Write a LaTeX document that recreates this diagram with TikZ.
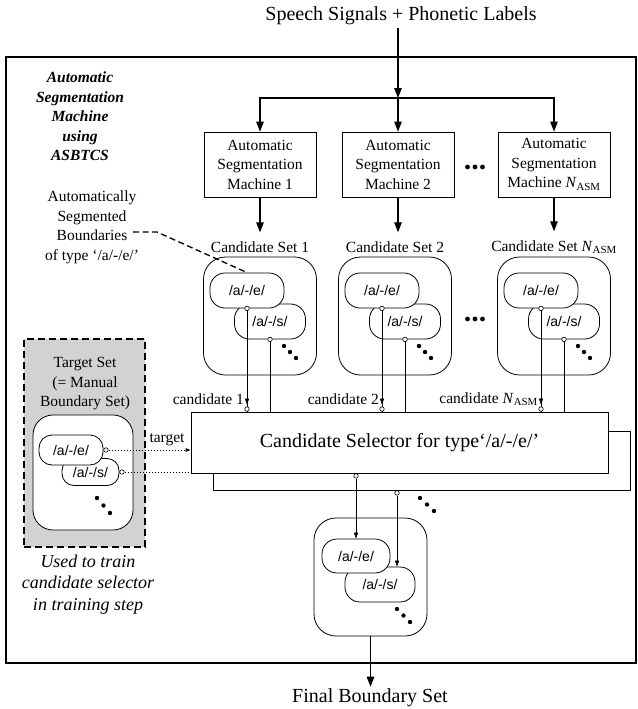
\documentclass[tikz,border=0pt]{standalone}
\usepackage{fontspec}
\setmainfont{Liberation Serif}
\newfontfamily\phonefont{Liberation Sans}
\usetikzlibrary{arrows.meta}

\newcommand\fbig{\fontsize{20}{24}\selectfont}
\newcommand\fmid{\fontsize{15.5}{19.5}\selectfont}
\newcommand\fnote{\fontsize{18}{21.5}\selectfont\itshape}
\newcommand\fphone{\phonefont\fontsize{14}{16}\selectfont}
\newcommand\Nasm{\textit{N}\textsubscript{ASM}}

\tikzset{
  machbox/.style={draw, line width=0.8pt, align=center, font=\fmid, minimum width=112pt, minimum height=65pt, inner sep=0pt},
  setbox/.style={draw, line width=0.8pt, rounded corners=22pt, minimum width=113pt, minimum height=118pt, inner sep=0pt},
  phone/.style={draw, fill=white, line width=0.8pt, rounded corners=15pt, minimum width=72pt, minimum height=35pt, inner sep=0pt, font=\fphone},
  selbox/.style={draw, fill=white, line width=0.8pt, minimum width=417pt, minimum height=61pt, inner sep=0pt, font=\fbig},
  port/.style={circle, draw, fill=white, line width=0.6pt, inner sep=0pt, minimum size=4.5pt},
  lbl/.style={inner sep=0pt, font=\fmid, align=center},
  arr/.style={line width=1.1pt, -{Triangle[length=10pt,width=7.5pt]}},
  thinarr/.style={line width=0.6pt, -{Triangle[length=6pt,width=4pt]}},
  dotarr/.style={line width=1pt, dotted, -{Triangle[length=5pt,width=3.5pt]}},
}

\begin{document}
\begin{tikzpicture}[x=1pt, y=-1pt]
\useasboundingbox (0,0) rectangle (637,709);

% Outer frame
\draw[line width=1.2pt] (6,57) rectangle (636,663);

% Input and split to the machines
\node[font=\fbig, inner sep=3pt] (speech) at (401,16) {Speech Signals + Phonetic Labels};
\coordinate (split) at (398,98);
\draw[arr] (speech.south -| split) -- (split);

% Candidate selector (back copy first)
\node[selbox, minimum height=59pt] (sel2) at (422,460.5) {};
\node[selbox] (sel) at (399.5,442.5) {Candidate Selector for type‘/a/-/e/’};

% Machines, candidate sets and their outputs
\foreach \i/\cx/\mx/\nm in {1/260/260/1, 2/395/398/2, 3/554/554/\Nasm} {
  \node[machbox] (m\i) at (\mx,164.5) {Automatic\\Segmentation\\Machine \nm};
  \draw[arr] (split) -| (m\i.north);
  \node[lbl] (cl\i) at (\cx,247) {Candidate Set \nm};
  \draw[arr, shorten >=9pt] (m\i.south) -- (m\i.south |- cl\i.north);
  \node[setbox] (cs\i) at (\cx,316) {};
  \node[phone, minimum width=71pt] (s\i) at (\cx+10,321.5) {/a/-/s/};
  \node[phone, minimum width=74pt] (e\i) at (\cx-13,290.5) {/a/-/e/};
  \foreach \d in {0,1,2}
    \fill (\cx+24+6*\d,346+6*\d) circle (2.2);
  % lines into the selector
  \coordinate (ce\i) at (e\i.south |- sel.north);
  \draw[line width=0.6pt] (e\i.south) -- (ce\i);
  \draw[thinarr, shorten >=7pt] (e\i.south) -- (ce\i);
  \node[port] (pe\i) at (e\i.south) {};
  \node[port, anchor=south] (pc\i) at (ce\i) {};
  \draw[line width=0.6pt] (s\i.south) -- (s\i.south |- sel.north);
  \node[port] (ps\i) at (s\i.south) {};
}
\node[lbl, anchor=east] (cand1) at (244,399) {candidate 1};
\node[lbl, anchor=east] (cand2) at (379,399) {candidate 2};
\node[lbl, anchor=east] (cand3) at (538,399) {candidate \Nasm};

% Ellipses between the columns
\foreach \y in {167,319}
  \foreach \d in {-7.5,0,7.5}
    \fill (475+\d,\y) circle (2.4);

% Title and annotation
\node[lbl, font=\fmid\bfseries\itshape] (title) at (80,116.5) {Automatic\\Segmentation\\Machine\\using\\ASBTCS};
\node[lbl] (asbnote) at (92,227.5) {Automatically\\Segmented\\Boundaries\\of type ‘/a/-/e/’};
\coordinate (asbend) at (133,232);
\draw[line width=1.3pt, dash pattern=on 6pt off 3.5pt] (asbend) -- ++(24,0) -- (e1.north);

% Target set
\node[draw, line width=2pt, dash pattern=on 7pt off 4pt, fill=gray!35, minimum width=121pt, minimum height=208pt] (tgt) at (84.5,443) {};
\node[lbl] (tgtlbl) at (85,384) {Target Set\\(= Manual\\Boundary Set)};
\node[setbox, fill=white, minimum width=100pt, minimum height=115pt, rounded corners=20pt] (tset) at (83,472.5) {};
\node[phone, minimum width=57pt, minimum height=27pt, rounded corners=12pt] (ts) at (90.5,472) {/a/-/s/};
\node[phone, minimum width=64pt, minimum height=30pt, rounded corners=13pt] (te) at (71,450) {/a/-/e/};
\foreach \d in {0,1,2}
  \fill (97+6.5*\d,498+7.5*\d) circle (2.2);
\node[port, anchor=west] (pte) at (te.east) {};
\node[port, anchor=west] (pts) at (ts.east) {};
\draw[dotarr] (pte.east) -- (pte.east -| sel.west);
\draw[line width=1pt, dotted] (pts.east) -- (pts.east -| sel.west);
\node[lbl] (tgtword) at (167,440) {target};
\node[lbl, font=\fnote] (trainnote) at (88,584.5) {Used to train\\candidate selector\\in training step};

% Selector output
\foreach \d in {0,1,2}
  \fill (420+7*\d,498+6.5*\d) circle (2.2);
\node[setbox] (fset) at (370.5,577) {};
\node[phone, minimum width=70pt] (fs) at (380,584.5) {/a/-/s/};
\node[phone, minimum width=68pt, minimum height=34pt] (fe) at (356,556) {/a/-/e/};
\foreach \d in {0,1,2}
  \fill (397+6.5*\d,609+6.5*\d) circle (2.2);
\node[port, anchor=north] (pf1) at (fe.north |- sel.south) {};
\draw[thinarr] (pf1.south) -- (fe.north);
\path (sel2.south) ++(-25,0) coordinate (fsout);
\node[port, anchor=north] (pf2) at (fsout) {};
\draw[thinarr] (pf2.south) -- (pf2.south |- fs.north);

% Final result
\node[font=\fbig, inner sep=2pt] (final) at (370,698) {Final Boundary Set};
\draw[arr] (fset.south) -- (fset.south |- final.north);

\end{tikzpicture}
\end{document}
